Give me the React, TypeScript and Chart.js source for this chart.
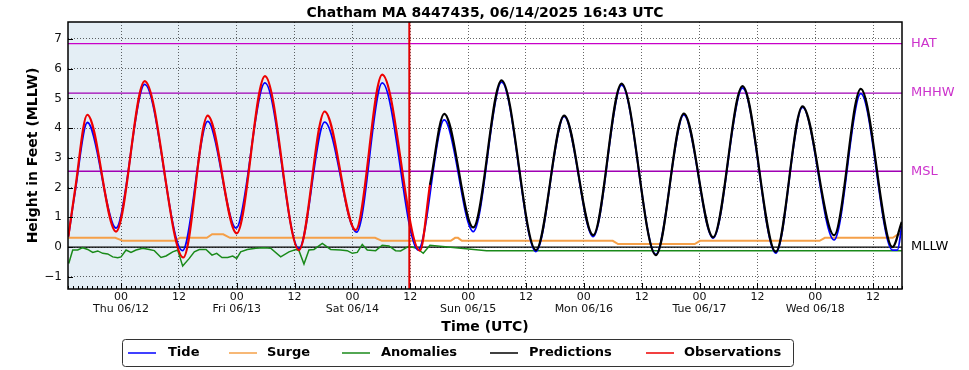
import React, { useEffect, useRef } from "react";
import { Chart, registerables } from "chart.js";
Chart.register(...registerables);

// ---- data (hours from Thu 06/12 00:00) ----
const X_MIN = -11;
const X_MAX = 162;
const Y_MIN = -1.41;
const Y_MAX = 7.57;
const NOW_HOUR = 59.8;

const tickHours = [0, 12, 24, 36, 48, 60, 72, 84, 96, 108, 120, 132, 144, 156];
const dayLabels = ["Thu 06/12", "Fri 06/13", "Sat 06/14", "Sun 06/15", "Mon 06/16", "Tue 06/17", "Wed 06/18"];
const yTicks = [-1, 0, 1, 2, 3, 4, 5, 6, 7];

const tideHours = [-10.93, -9.54, -6.99, -1.04, 4.91, 12.75, 17.98, 23.85, 29.86, 36.91, 42.24, 48.88, 54.18, 61.65, 67.04, 73.06, 78.94, 86.06, 91.93, 97.94, 103.83, 110.94, 116.75, 122.82, 128.92, 135.82, 141.36, 147.91, 153.45, 160.02, 161.06, 161.95];
const tideValues = [0.35, 1.85, 4.19, 0.64, 5.47, -0.12, 4.23, 0.64, 5.52, -0.05, 4.2, 0.5, 5.52, -0.1, 4.28, 0.52, 5.55, -0.15, 4.4, 0.35, 5.45, -0.25, 4.45, 0.3, 5.35, -0.2, 4.7, 0.24, 5.16, -0.1, -0.1, 0.7];

const obsHours = [-10.93, -9.54, -6.99, -1.04, 4.91, 12.92, 17.98, 23.99, 29.86, 36.91, 42.24, 48.67, 54.18, 62.0, 64.08];
const obsValues = [0.35, 1.92, 4.45, 0.52, 5.58, -0.35, 4.42, 0.46, 5.75, -0.1, 4.56, 0.57, 5.8, -0.12, 2.09];

const predHours = [64.08, 67.04, 73.06, 78.94, 86.06, 91.93, 97.94, 103.83, 110.94, 116.75, 122.82, 128.92, 135.82, 141.36, 147.91, 153.45, 160.02, 161.95];
const predValues = [2.09, 4.48, 0.66, 5.61, -0.1, 4.42, 0.4, 5.5, -0.27, 4.49, 0.33, 5.41, -0.16, 4.73, 0.4, 5.32, 0.0, 0.85];

const surgeHours = [-10.93, -1.2, 0.4, 11.2, 12.2, 17.8, 18.9, 21.2, 22.6, 52.7, 54.1, 68.4, 69.3, 69.9, 70.7, 102.0, 103.1, 119.0, 120.1, 144.9, 146.0, 160.1, 161.2, 161.95];
const surgeValues = [0.31, 0.31, 0.21, 0.21, 0.31, 0.31, 0.43, 0.43, 0.31, 0.31, 0.21, 0.21, 0.31, 0.31, 0.21, 0.21, 0.1, 0.1, 0.21, 0.21, 0.31, 0.31, 0.43, 0.43];

const anomHours = [-10.85, -10.02, -8.98, -7.94, -6.91, -5.87, -4.83, -3.8, -2.76, -1.72, -0.69, 0, 1.04, 2.07, 3.11, 4.5, 5.87, 6.91, 8.29, 9.33, 10.72, 11.75, 12.79, 14.16, 15.2, 16.24, 17.63, 18.87, 19.84, 20.94, 22.12, 23.16, 23.99, 24.82, 26.2, 27.93, 29.65, 31.04, 33.12, 34.84, 36.22, 36.91, 37.95, 38.98, 40.02, 41.75, 43.48, 45.56, 46.93, 47.97, 49.0, 50.04, 51.08, 52.82, 54.18, 55.57, 56.96, 58.0, 59.72, 61.31, 62.69, 64.08, 75.83, 161.95];
const anomValues = [-0.55, -0.1, -0.1, -0.02, -0.08, -0.18, -0.13, -0.21, -0.23, -0.33, -0.36, -0.33, -0.1, -0.18, -0.1, -0.04, -0.08, -0.12, -0.35, -0.3, -0.16, -0.1, -0.64, -0.38, -0.16, -0.08, -0.08, -0.27, -0.21, -0.35, -0.35, -0.3, -0.38, -0.16, -0.08, -0.04, -0.02, -0.04, -0.33, -0.16, -0.08, -0.12, -0.57, -0.1, -0.08, 0.12, -0.08, -0.1, -0.12, -0.21, -0.18, 0.09, -0.1, -0.12, 0.06, 0.04, -0.12, -0.13, 0.03, -0.04, -0.21, 0.06, -0.12, -0.12];

const datumNames = ["HAT", "MHHW", "MSL", "MLLW"];
const datumValues = [6.84, 5.18, 2.55, 0];
const datumLineColors = ["#c800c8", "#a000b4", "#a000b4", "#000000"];
const datumTextColors = ["#cc33cc", "#cc33cc", "#cc33cc", "#000000"];

const legendNames = ["Tide", "Surge", "Anomalies", "Predictions", "Observations"];
const legendColors = ["#0000ff", "#f5a048", "#1a8a1a", "#000000", "#ee0000"];
const legendLineX = [128, 229, 342, 490, 646];
const legendTextX = [168, 267, 381, 529, 684];

const FONT = "'DejaVu Sans', 'Liberation Sans', sans-serif";

const toPts = (xs: number[], ys: number[]) => xs.map((x, i) => ({ x, y: ys[i] }));

const decorPlugin = {
  id: "decor",
  beforeDraw(chart: any) {
    const { ctx, chartArea: a, scales } = chart;
    const xn = scales.x.getPixelForValue(NOW_HOUR);
    ctx.save();
    ctx.fillStyle = "#e4eef5";
    ctx.fillRect(a.left, a.top, xn - a.left, a.bottom - a.top);
    ctx.restore();
  },
  afterDatasetsDraw(chart: any) {
    const { ctx, chartArea: a, scales } = chart;
    const xs = scales.x;
    const ys = scales.y;
    ctx.save();
    // now line
    const xn = xs.getPixelForValue(NOW_HOUR);
    ctx.strokeStyle = "#e00000";
    ctx.lineWidth = 2;
    ctx.beginPath();
    ctx.moveTo(xn, a.top);
    ctx.lineTo(xn, a.bottom);
    ctx.stroke();
    // inside ticks
    ctx.strokeStyle = "#000";
    ctx.lineWidth = 1;
    ctx.beginPath();
    for (let h = Math.ceil(X_MIN); h <= X_MAX; h++) {
      const px = Math.round(xs.getPixelForValue(h)) + 0.5;
      const len = h % 12 === 0 ? 6 : 3;
      ctx.moveTo(px, a.bottom);
      ctx.lineTo(px, a.bottom - len);
    }
    for (const v of yTicks) {
      const py = Math.round(ys.getPixelForValue(v)) + 0.5;
      ctx.moveTo(a.left, py);
      ctx.lineTo(a.left + 5, py);
    }
    ctx.stroke();
    // frame
    ctx.lineWidth = 1.5;
    ctx.strokeRect(a.left, a.top, a.right - a.left, a.bottom - a.top);
    ctx.restore();
  },
  afterDraw(chart: any) {
    const { ctx, chartArea: a, scales } = chart;
    const cx = (a.left + a.right) / 2;
    ctx.save();
    ctx.fillStyle = "#000";
    ctx.textAlign = "center";
    ctx.textBaseline = "middle";
    ctx.font = `bold 14px ${FONT}`;
    ctx.fillText("Chatham MA 8447435, 06/14/2025 16:43 UTC", cx, 13);
    ctx.fillText("Time (UTC)", cx, 327);
    ctx.save();
    ctx.translate(33, (a.top + a.bottom) / 2);
    ctx.rotate(-Math.PI / 2);
    ctx.fillText("Height in Feet (MLLW)", 0, 0);
    ctx.restore();
    // datum labels
    ctx.textAlign = "left";
    ctx.font = `13px ${FONT}`;
    datumNames.forEach((n, i) => {
      ctx.fillStyle = datumTextColors[i];
      ctx.fillText(n, 911, scales.y.getPixelForValue(datumValues[i]));
    });
    // legend
    const bx = 122, by = 339, bw = 671, bh = 27;
    ctx.strokeStyle = "#333";
    ctx.lineWidth = 1;
    ctx.beginPath();
    if (ctx.roundRect) ctx.roundRect(bx + 0.5, by + 0.5, bw, bh, 3);
    else ctx.rect(bx + 0.5, by + 0.5, bw, bh);
    ctx.stroke();
    ctx.font = `bold 13px ${FONT}`;
    const ly = by + bh / 2 + 0.5;
    legendNames.forEach((n, i) => {
      ctx.strokeStyle = legendColors[i];
      ctx.lineWidth = 1.5;
      ctx.beginPath();
      ctx.moveTo(legendLineX[i], ly);
      ctx.lineTo(legendLineX[i] + 28, ly);
      ctx.stroke();
      ctx.fillStyle = "#000";
      ctx.fillText(n, legendTextX[i], ly);
    });
    ctx.restore();
  },
};

export default function App() {
  const ref = useRef<HTMLCanvasElement | null>(null);
  useEffect(() => {
    if (!ref.current) return;
    Chart.defaults.font.family = FONT;
    const datumSets = datumNames.map((n, i) => ({
      label: n,
      data: [
        { x: X_MIN, y: datumValues[i] },
        { x: X_MAX, y: datumValues[i] },
      ],
      borderColor: datumLineColors[i],
      borderWidth: 1.3,
      pointRadius: 0,
      order: 10,
    }));
    const chart = new Chart(ref.current, {
      type: "line",
      data: {
        datasets: [
          {
            label: "Observations",
            data: toPts(obsHours, obsValues),
            borderColor: "#ee0000",
            borderWidth: 2.2,
            pointRadius: 0,
            cubicInterpolationMode: "monotone",
            order: 0,
          },
          {
            label: "Predictions",
            data: toPts(predHours, predValues),
            borderColor: "#000000",
            borderWidth: 2.2,
            pointRadius: 0,
            cubicInterpolationMode: "monotone",
            order: 1,
          },
          {
            label: "Tide",
            data: toPts(tideHours, tideValues),
            borderColor: "#0000ff",
            borderWidth: 1.8,
            pointRadius: 0,
            cubicInterpolationMode: "monotone",
            order: 2,
          },
          {
            label: "Anomalies",
            data: toPts(anomHours, anomValues),
            borderColor: "#1a8a1a",
            borderWidth: 1.5,
            pointRadius: 0,
            tension: 0,
            order: 3,
          },
          {
            label: "Surge",
            data: toPts(surgeHours, surgeValues),
            borderColor: "#f5a048",
            borderWidth: 2,
            pointRadius: 0,
            tension: 0,
            order: 4,
          },
          ...datumSets,
        ] as any,
      },
      options: {
        animation: false,
        responsive: false,
        devicePixelRatio: 1,
        layout: { padding: { left: 0, top: 22, right: 67, bottom: 0 } },
        plugins: { legend: { display: false }, tooltip: { enabled: false }, title: { display: false } },
        scales: {
          x: {
            type: "linear",
            min: X_MIN,
            max: X_MAX,
            afterFit: (s: any) => {
              s.height = 81;
            },
            afterBuildTicks: (s: any) => {
              s.ticks = tickHours.map((v) => ({ value: v }));
            },
            border: { display: false, dash: [1, 2] },
            grid: { color: "rgba(0,0,0,0.6)", lineWidth: 1, drawTicks: false },
            ticks: {
              autoSkip: false,
              maxRotation: 0,
              padding: 2,
              color: "#111",
              font: { size: 11, lineHeight: 1.1 },
              callback: (v: any) => {
                const h = Number(v);
                if (h % 24 === 0) return ["00", dayLabels[h / 24]];
                return "12";
              },
            },
          },
          y: {
            type: "linear",
            min: Y_MIN,
            max: Y_MAX,
            afterFit: (s: any) => {
              s.width = 68;
            },
            afterBuildTicks: (s: any) => {
              s.ticks = yTicks.map((v) => ({ value: v }));
            },
            border: { display: false, dash: [1, 2] },
            grid: { color: "rgba(0,0,0,0.6)", lineWidth: 1, drawTicks: false },
            ticks: {
              padding: 6,
              color: "#111",
              font: { size: 12 },
              callback: (v: any) => (Number(v) < 0 ? "\u2212" + Math.abs(Number(v)) : String(v)),
            },
          },
        },
      },
      plugins: [decorPlugin],
    });
    return () => chart.destroy();
  }, []);
  return (
    <div style={{ position: "fixed", left: 0, top: 0, width: 969, height: 370, background: "#fff" }}>
      <canvas ref={ref} width={969} height={370} />
    </div>
  );
}
